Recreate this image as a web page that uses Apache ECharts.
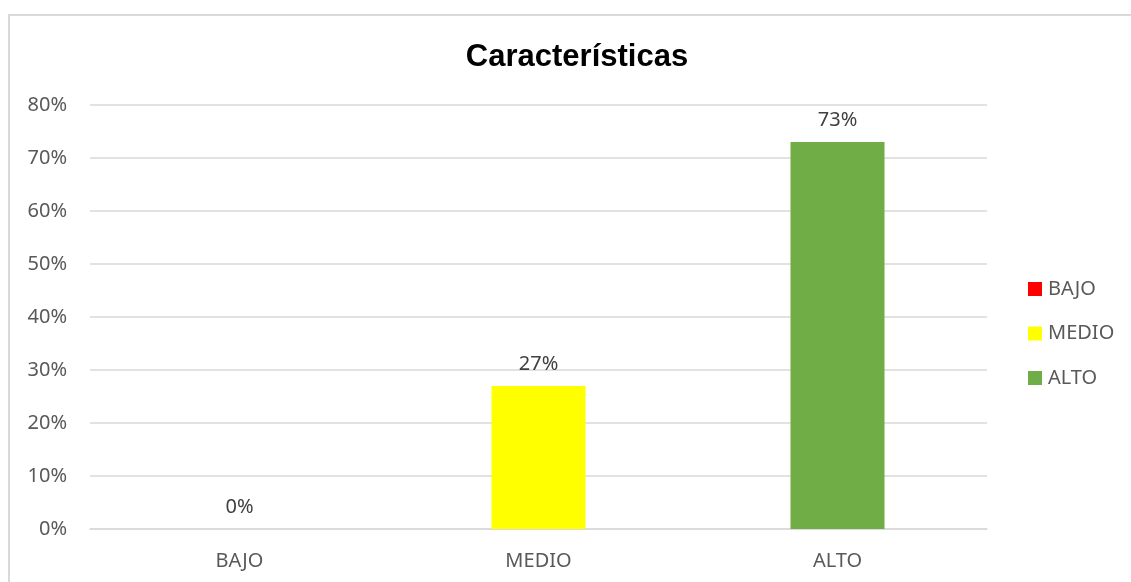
<!DOCTYPE html>
<html>
<head>
<meta charset="utf-8">
<script src="https://cdn.jsdelivr.net/npm/echarts@6/dist/echarts.min.js"></script>
<style>
html,body{margin:0;padding:0;background:#fff;}
#chart{width:1131px;height:582px;}
</style>
</head>
<body>
<div id="chart"></div>
<script>
var categories = ['BAJO', 'MEDIO', 'ALTO'];
var values = [0, 27, 73];
var colors = ['#FF0000', '#FFFF00', '#70AD47'];
var yTicks = [0, 10, 20, 30, 40, 50, 60, 70, 80];

var chart = echarts.init(document.getElementById('chart'));
var series = categories.map(function (name, i) {
  var data = categories.map(function (c, j) { return j === i ? values[i] : '-'; });
  return {
    name: name,
    type: 'bar',
    stack: 'all',
    barWidth: 94,
    data: data,
    itemStyle: { color: colors[i] },
    label: {
      show: true,
      position: 'top',
      distance: 12,
      formatter: '{c}%',
      color: '#404040',
      fontFamily: 'Noto Sans',
      fontSize: 20
    }
  };
});

chart.setOption({
  animation: false,
  backgroundColor: '#ffffff',
  title: {
    text: 'Características',
    left: 572,
    textAlign: 'center',
    top: 37,
    textStyle: { fontFamily: 'Liberation Sans', fontWeight: 'bold', fontSize: 31, color: '#000000' }
  },
  graphic: [{
    type: 'rect',
    shape: { x: 9, y: 15, width: 1300, height: 800 },
    style: { fill: 'none', stroke: '#d9d9d9', lineWidth: 2 },
    silent: true
  }],
  legend: {
    orient: 'vertical',
    left: 1028,
    top: 279,
    padding: 0,
    itemWidth: 14,
    itemHeight: 14,
    itemGap: 24.5,
    icon: 'rect',
    textStyle: { fontFamily: 'Noto Sans', fontSize: 20, color: '#595959', lineHeight: 20, padding: [0, 0, 0, 1] },
    data: categories
  },
  grid: { left: 90, right: 144, top: 105, bottom: 53 },
  xAxis: {
    type: 'category',
    data: categories,
    axisLine: { lineStyle: { color: '#d9d9d9', width: 1.5 } },
    axisTick: { show: false },
    axisLabel: { color: '#595959', fontFamily: 'Noto Sans', fontSize: 20, margin: 22 }
  },
  yAxis: {
    type: 'value',
    min: yTicks[0],
    max: yTicks[yTicks.length - 1],
    interval: 10,
    axisLine: { show: false },
    axisTick: { show: false },
    splitLine: { lineStyle: { color: '#d9d9d9', width: 1.5 } },
    axisLabel: { formatter: '{value}%', color: '#595959', fontFamily: 'Noto Sans', fontSize: 20, margin: 23 }
  },
  series: series
});
</script>
</body>
</html>
